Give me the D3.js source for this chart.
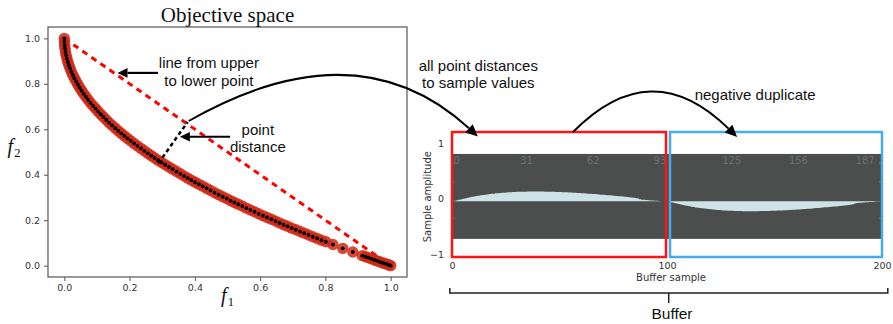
<!DOCTYPE html>
<html>
<head>
<meta charset="utf-8">
<script src="https://cdn.jsdelivr.net/npm/d3@7"></script>
<style>
  body { margin: 0; background: #fff; }
  svg { display: block; }
</style>
</head>
<body>
<svg id="fig" width="893" height="324"></svg>
<script>
// Pareto front points (objective space), sorted by f1
const f1Values = [0.000,0.0002,0.0009,0.0020,0.0035,0.0055,0.0079,0.0108,0.0139,0.0175,
  0.0215,0.0259,0.0307,0.0359,0.0414,0.0470,0.0530,0.0593,0.0660,0.0731,
  0.0804,0.0882,0.0958,0.1035,0.1115,0.1199,0.1285,0.1373,0.1465,0.1561,
  0.1653,0.1745,0.1839,0.1935,0.2034,0.2135,0.2239,0.2345,0.2454,0.2559,
  0.2662,0.2767,0.2873,0.2982,0.3092,0.3206,0.3320,0.3437,0.3556,0.3670,
  0.3781,0.3894,0.4008,0.4124,0.4242,0.4361,0.4482,0.4605,0.4729,0.4855,
  0.4976,0.5094,0.5213,0.5332,0.5454,0.5577,0.5702,0.5828,0.5955,0.6084,
  0.6213,0.6344,0.6471,0.6593,0.6717,0.6841,0.6967,0.7095,0.7223,0.7351,
  0.7482,0.7614,0.7747,0.7880,0.8016,
  0.823,0.853,0.884,0.913,0.923,0.932,0.941,0.950,0.958,0.966,0.974,0.981,0.988,0.995,1.000];
const f2Values = [1.000,0.985,0.970,0.956,0.941,0.926,0.911,0.896,0.882,0.868,
  0.853,0.839,0.825,0.811,0.797,0.783,0.770,0.756,0.743,0.730,
  0.716,0.703,0.691,0.678,0.666,0.654,0.642,0.629,0.617,0.605,
  0.593,0.582,0.571,0.560,0.549,0.538,0.527,0.516,0.505,0.494,
  0.484,0.474,0.464,0.454,0.444,0.434,0.424,0.414,0.404,0.394,
  0.385,0.376,0.367,0.358,0.349,0.340,0.331,0.321,0.312,0.303,
  0.295,0.286,0.278,0.270,0.262,0.253,0.245,0.237,0.228,0.220,
  0.212,0.204,0.196,0.188,0.180,0.173,0.165,0.158,0.150,0.143,
  0.135,0.127,0.120,0.112,0.105,
  0.093,0.076,0.060,0.044,0.039,0.035,0.030,0.025,0.021,0.017,0.013,0.010,0.006,0.003,0.000];

// Line from the upper to the lower extreme point
const extremeLine = [[0, 1], [1, 0]];
// One example point distance (from a front point to the line)
const distanceSegment = [[0.288, 0.45], [0.378, 0.632]];

const objTicks = [0, 0.2, 0.4, 0.6, 0.8, 1.0];
const bufferTicks = [0, 100, 200];
const amplitudeTicks = [1, 0, -1];
const viewLabels = [0, 31, 62, 93, 125, 156, 187];
const viewGridAmps = [0.64, 0.3, -0.35];

const svg = d3.select("#fig");
const sans = "'Liberation Sans', Arial, sans-serif";
const dejavu = "'DejaVu Sans', sans-serif";
const serif = "'Liberation Serif', 'DejaVu Serif', serif";

// ---------- Objective space ----------
const x = d3.scaleLinear().domain([-0.05, 1.05]).range([48, 407]);
const y = d3.scaleLinear().domain([-0.05, 1.05]).range([277, 27]);

const left = svg.append("g");

const xAxis = left.append("g").attr("transform", `translate(0,${y.range()[0]})`)
  .call(d3.axisBottom(x).tickValues(objTicks).tickFormat(d3.format(".1f")).tickSize(4).tickPadding(3));
const yAxis = left.append("g").attr("transform", `translate(${x.range()[0]},0)`)
  .call(d3.axisLeft(y).tickValues(objTicks).tickFormat(d3.format(".1f")).tickSize(4).tickPadding(4));
[xAxis, yAxis].forEach(a => {
  a.select(".domain").remove();
  a.selectAll("line").attr("stroke", "#555");
  a.selectAll("text").attr("fill", "#333").style("font-family", dejavu).style("font-size", "9.5px");
});

left.append("rect")
  .attr("x", x.range()[0]).attr("y", y.range()[1])
  .attr("width", x.range()[1] - x.range()[0]).attr("height", y.range()[0] - y.range()[1])
  .attr("fill", "none").attr("stroke", "#555").attr("stroke-width", 1.2);

left.append("text").attr("x", (x.range()[0] + x.range()[1]) / 2).attr("y", 22)
  .attr("text-anchor", "middle").style("font-family", serif).style("font-size", "21px")
  .attr("fill", "#111").text("Objective space");

function mathLabel(g, px, py, sub) {
  const t = g.append("text").attr("x", px).attr("y", py).attr("text-anchor", "middle")
    .style("font-family", serif).attr("fill", "#111");
  t.append("tspan").style("font-style", "italic").style("font-size", "20px").text("f");
  t.append("tspan").style("font-size", "12.5px").attr("dy", 4).attr("dx", 1).text(sub);
}
mathLabel(left, (x.range()[0] + x.range()[1]) / 2, 302, "1");
mathLabel(left, 14, 153, "2");

const pts = f1Values.map((v, i) => ({ f1: v, f2: f2Values[i] }));

// red dashed line between extreme points
left.append("line")
  .attr("x1", x(extremeLine[0][0])).attr("y1", y(extremeLine[0][1]))
  .attr("x2", x(extremeLine[1][0])).attr("y2", y(extremeLine[1][1]))
  .attr("stroke", "#ff0000").attr("stroke-width", 3).attr("stroke-dasharray", "6,5");

// front points: red halo + black centre
left.append("g").selectAll("circle").data(pts).join("circle")
  .attr("cx", d => x(d.f1)).attr("cy", d => y(d.f2)).attr("r", 5.7)
  .attr("fill", "#cf2814").attr("fill-opacity", 0.85);
left.append("g").selectAll("circle").data(pts).join("circle")
  .attr("cx", d => x(d.f1)).attr("cy", d => y(d.f2)).attr("r", 1.9)
  .attr("fill", "#000");

// example point distance
left.append("line")
  .attr("x1", x(distanceSegment[0][0])).attr("y1", y(distanceSegment[0][1]))
  .attr("x2", x(distanceSegment[1][0])).attr("y2", y(distanceSegment[1][1]))
  .attr("stroke", "#000").attr("stroke-width", 2.5).attr("stroke-dasharray", "4,3");

// ---------- arrows helpers ----------
function arrowHead(g, tip, from, len, half) {
  const dx = tip[0] - from[0], dy = tip[1] - from[1];
  const n = Math.hypot(dx, dy), ux = dx / n, uy = dy / n;
  const bx = tip[0] - ux * len, by = tip[1] - uy * len;
  g.append("path")
    .attr("d", `M${tip[0]},${tip[1]}L${bx - uy * half},${by + ux * half}L${bx + uy * half},${by - ux * half}Z`)
    .attr("fill", "#000");
  return [bx, by];
}
function straightArrow(g, tail, tip) {
  const base = arrowHead(g, tip, tail, 10, 4.8);
  g.append("line").attr("x1", tail[0]).attr("y1", tail[1]).attr("x2", base[0]).attr("y2", base[1])
    .attr("stroke", "#000").attr("stroke-width", 2.2);
}
function curvedArrow(g, p0, p2, ctrl) {
  const base = arrowHead(g, p2, ctrl, 12, 5.5);
  g.append("path").attr("d", `M${p0[0]},${p0[1]}Q${ctrl[0]},${ctrl[1]} ${base[0]},${base[1]}`)
    .attr("fill", "none").attr("stroke", "#000").attr("stroke-width", 2);
}
function label(g, lines, cx, baselines, size) {
  lines.forEach((s, i) => g.append("text").attr("x", cx).attr("y", baselines[i])
    .attr("text-anchor", "middle").style("font-family", sans).style("font-size", size)
    .attr("fill", "#111").text(s));
}

// annotations inside the objective space
straightArrow(left, [x(0.287), y(0.848)], [x(0.163), y(0.848)]);
label(left, ["line from upper", "to lower point"], x(0.443), [y(0.8696), y(0.79)], "15px");
straightArrow(left, [x(0.508), y(0.567)], [x(0.354), y(0.567)]);
label(left, ["point", "distance"], x(0.593), [y(0.575), y(0.5)], "15px");

// ---------- Buffer ----------
const xb = d3.scaleLinear().domain([0, 200]).range([452, 882]);
const yb = d3.scaleLinear().domain([-1.05, 1.2]).range([257, 132]);
// waveform view sits a little below the amplitude axis zero
const yw = d3.scaleLinear().domain(yb.domain()).range(yb.range().map(r => r + 2.7));

const right = svg.append("g");

// point distances to the extreme line become the samples, then their negative duplicate
const distances = pts.map(p => (1 - p.f1 - p.f2) / Math.SQRT2);
const buffer = distances.concat(distances.map(d => -d));

// dark waveform view
right.append("rect")
  .attr("x", xb(0)).attr("y", yb(0.805))
  .attr("width", xb(200) - xb(0)).attr("height", yb(-0.724) - yb(0.805))
  .attr("fill", "#4b4e4d");

right.append("g").selectAll("text").data(viewLabels).join("text")
  .attr("x", d => xb(d) + 1.5).attr("y", yb(0.62))
  .style("font-family", dejavu).style("font-size", "10px").attr("fill", "#6d706f")
  .text(d => d);

right.append("g").selectAll("line").data(viewGridAmps.flatMap(a => [[0, a], [200, a]])).join("line")
  .attr("x1", d => xb(d[0])).attr("x2", d => xb(d[0]) + (d[0] === 0 ? 3 : -3))
  .attr("y1", d => yb(d[1])).attr("y2", d => yb(d[1]))
  .attr("stroke", "#7a7d7c").attr("stroke-width", 1);

const waveLeft = d3.area().x((d, i) => xb(i)).y0(yw(0)).y1(d => yw(d)).curve(d3.curveStepAfter);
const waveRight = d3.area().x((d, i) => xb(100 + i)).y0(yw(0)).y1(d => yw(d)).curve(d3.curveStepAfter);
right.append("path").datum(buffer.slice(0, 100)).attr("d", waveLeft).attr("fill", "#cde3e8");
right.append("path").datum(buffer.slice(100)).attr("d", waveRight).attr("fill", "#cde3e8");

// half-buffer frames
right.append("rect")
  .attr("x", xb(0)).attr("y", yb(1.2))
  .attr("width", xb(100) - xb(0) - 1).attr("height", yb(-1.05) - yb(1.2))
  .attr("fill", "none").attr("stroke", "#ff1414").attr("stroke-width", 2.5);
right.append("rect")
  .attr("x", xb(100) + 3).attr("y", yb(1.2))
  .attr("width", xb(200) - xb(100) - 3).attr("height", yb(-1.05) - yb(1.2))
  .attr("fill", "none").attr("stroke", "#45adef").attr("stroke-width", 2.5);

const bAxis = right.append("g").attr("transform", `translate(0,${yb(-1.05)})`)
  .call(d3.axisBottom(xb).tickValues(bufferTicks).tickSize(0).tickPadding(5));
const aAxis = right.append("g").attr("transform", `translate(${xb(0)},0)`)
  .call(d3.axisLeft(yb).tickValues(amplitudeTicks).tickFormat(d3.format("d")).tickSize(0).tickPadding(8));
[bAxis, aAxis].forEach(a => {
  a.select(".domain").remove();
  a.selectAll("text").attr("fill", "#333").style("font-family", dejavu).style("font-size", "9.5px");
});

right.append("text").attr("x", xb(100) + 4).attr("y", 280.5).attr("text-anchor", "middle")
  .style("font-family", dejavu).style("font-size", "10px").attr("fill", "#333").text("Buffer sample");
right.append("text").attr("transform", `translate(430.5,${yb(0) - 2}) rotate(-90)`).attr("text-anchor", "middle")
  .style("font-family", dejavu).style("font-size", "10px").attr("fill", "#333").text("Sample amplitude");

// bracket under the whole buffer
const bracketY = 293;
right.append("path")
  .attr("d", `M${xb(-1)},${bracketY - 5}V${bracketY}H${xb(202.7)}V${bracketY - 5}M${xb(100.8)},${bracketY}V${bracketY + 10}`)
  .attr("fill", "none").attr("stroke", "#222").attr("stroke-width", 1.5);
right.append("text").attr("x", xb(100) + 5).attr("y", 319).attr("text-anchor", "middle")
  .style("font-family", sans).style("font-size", "15.5px").attr("fill", "#111").text("Buffer");

// ---------- cross-panel annotations ----------
const ann = svg.append("g");
const arcStart = [x(distanceSegment[1][0]), y(distanceSegment[1][1])];
const arcEnd = [xb(12), yb(1.12)];
curvedArrow(ann, [arcStart[0] + 1, arcStart[1] - 1], arcEnd,
  [(arcStart[0] + arcEnd[0]) / 2 + 24, (arcStart[1] + arcEnd[1]) / 2 - 104]);
label(ann, ["all point distances", "to sample values"], xb(12) + 0.5, [70.5, 87.5], "15px");

const dupStart = [xb(56.3), yb(1.2)];
const dupEnd = [xb(132.6), yb(1.11)];
curvedArrow(ann, dupStart, dupEnd,
  [(dupStart[0] + dupEnd[0]) / 2 - 4, (dupStart[1] + dupEnd[1]) / 2 - 82]);
label(ann, ["negative duplicate"], xb(141), [100], "15px");
</script>
</body>
</html>
